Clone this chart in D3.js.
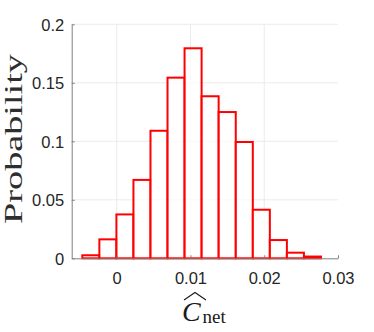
<!DOCTYPE html>
<html>
<head>
<meta charset="utf-8">
<script src="https://cdn.jsdelivr.net/npm/d3@7"></script>
<style>
html,body{margin:0;padding:0;background:#fff;}
svg{display:block;}
</style>
</head>
<body>
<svg id="chart" width="374" height="332"></svg>
<script>
// Histogram bin edges (x) and probabilities (y)
const binEdges = [-0.00466, -0.00235, -0.00004, 0.00227, 0.00458, 0.00689, 0.00920,
                  0.01151, 0.01382, 0.01614, 0.01845, 0.02076, 0.02307, 0.02538, 0.02769];
const probabilities = [0.0026, 0.0162, 0.0375, 0.067, 0.109, 0.1544, 0.1795,
                       0.1385, 0.125, 0.0994, 0.0415, 0.0156, 0.0048, 0.0015];
const xTicks = [0, 0.01, 0.02, 0.03];
const xTickLabels = ["0", "0.01", "0.02", "0.03"];
const xGrid = [0, 0.01, 0.02];
const yTicks = [0, 0.05, 0.1, 0.15, 0.2];
const yTickLabels = ["0", "0.05", "0.1", "0.15", "0.2"];
const yLabel = "Probability";
const xLabelMain = "C";
const xLabelSub = "net";

const svg = d3.select("#chart");
const L = 71.7, R = 338, T = 24.3, B = 258.3;
const x = d3.scaleLinear().domain([-0.0061, 0.03]).range([L, R]);
const y = d3.scaleLinear().domain([0, 0.2]).range([B, T]);

const axisColor = "#808080", gridColor = "#ebebeb", textColor = "#262626";

// grid
const g = svg.append("g");
g.selectAll("line.gy").data(yTicks.filter(d => d > 0)).join("line")
  .attr("x1", L).attr("x2", R).attr("y1", d => y(d)).attr("y2", d => y(d))
  .attr("stroke", gridColor).attr("stroke-width", 1);
g.selectAll("line.gx").data(xGrid).join("line")
  .attr("x1", d => x(d)).attr("x2", d => x(d)).attr("y1", T).attr("y2", B)
  .attr("stroke", gridColor).attr("stroke-width", 1);

// bars
const bins = probabilities.map((p, i) => ({x0: binEdges[i], x1: binEdges[i + 1], p}));
svg.append("g").selectAll("rect").data(bins).join("rect")
  .attr("x", d => x(d.x0)).attr("width", d => x(d.x1) - x(d.x0))
  .attr("y", d => y(d.p)).attr("height", d => y(0) - y(d.p))
  .attr("fill", "#ffffff").attr("fill-opacity", 0.7)
  .attr("stroke", "#ff0000").attr("stroke-width", 2);

// axes (MATLAB style: inward ticks, no box)
const tickFont = "'Liberation Sans', Arial, sans-serif";
const yAxis = d3.axisLeft(y).tickValues(yTicks).tickFormat((d, i) => yTickLabels[i])
  .tickSizeInner(-3).tickSizeOuter(0).tickPadding(10);
const ya = svg.append("g").attr("transform", `translate(${L},0)`).call(yAxis);
ya.select(".domain").attr("stroke", axisColor);
ya.selectAll(".tick line").attr("stroke", axisColor);
ya.selectAll(".tick text").attr("fill", textColor)
  .style("font-family", tickFont).style("font-size", "16.5px")
  .attr("x", -7.5).attr("dy", "0.36em");

const xAxis = d3.axisBottom(x).tickValues(xTicks).tickFormat((d, i) => xTickLabels[i])
  .tickSizeInner(-3).tickSizeOuter(0).tickPadding(10);
const xa = svg.append("g").attr("transform", `translate(0,${B})`).call(xAxis);
xa.select(".domain").attr("stroke", axisColor);
xa.selectAll(".tick line").attr("stroke", axisColor);
xa.selectAll(".tick text").attr("fill", textColor)
  .style("font-family", tickFont).style("font-size", "16.5px")
  .attr("y", 13.5).attr("dy", "0.71em");

// y label
svg.append("text")
  .attr("transform", "translate(21.5,139) rotate(-90)")
  .attr("text-anchor", "middle")
  .attr("textLength", 170).attr("lengthAdjust", "spacingAndGlyphs")
  .style("font-family", "'Liberation Serif', 'Times New Roman', serif")
  .style("font-size", "25px").attr("fill", "#2e2e2e")
  .text(yLabel);

// x label: widehat C with subscript net
const xl = svg.append("g");
xl.append("text").attr("x", 182).attr("y", 320.5)
  .style("font-family", "'Liberation Serif', 'Times New Roman', serif")
  .style("font-style", "italic").style("font-size", "28px").attr("fill", "#1a1a1a")
  .text(xLabelMain);
xl.append("text").attr("x", 202.5).attr("y", 323)
  .style("font-family", "'Liberation Serif', 'Times New Roman', serif")
  .style("font-size", "19px").attr("fill", "#1a1a1a")
  .text(xLabelSub);
xl.append("path")
  .attr("d", "M184,300 L195,292.5 L206,300")
  .attr("fill", "none").attr("stroke", "#1a1a1a").attr("stroke-width", 1.1)
  .attr("stroke-linejoin", "miter");
</script>
</body>
</html>
